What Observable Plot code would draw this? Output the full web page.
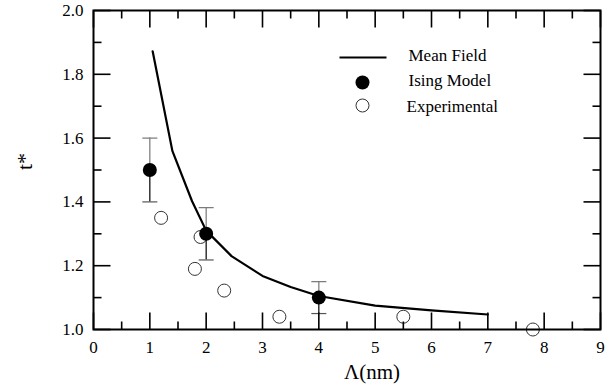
<!DOCTYPE html>
<html><head><meta charset="utf-8">
<script src="https://cdn.jsdelivr.net/npm/d3@7"></script>
<script src="https://cdn.jsdelivr.net/npm/@observablehq/plot@0.6"></script>
<style>
body{margin:0;background:#fff}
#wrap{position:relative;width:615px;height:390px;overflow:hidden}
#wrap svg{position:absolute;left:0;top:0}
</style>
</head><body><div id="wrap"></div>
<script>
// Mean field curve
const meanFieldX = [1.05, 1.4, 1.75, 2.0, 2.45, 3.0, 3.5, 4.0, 5.0, 6.0, 7.0];
const meanFieldT = [1.872, 1.56, 1.402, 1.31, 1.23, 1.168, 1.133, 1.105, 1.075, 1.06, 1.047];
// Ising model points with error bars
const isingX = [1, 2, 4];
const isingT = [1.5, 1.3, 1.1];
const isingErr = [0.1, 0.082, 0.05];
// Experimental points
const expX = [1.2, 1.8, 1.9, 2.32, 3.3, 5.5, 7.8];
const expT = [1.35, 1.19, 1.29, 1.122, 1.04, 1.04, 1.0];
// Ticks
const xMajor = [0, 1, 2, 3, 4, 5, 6, 7, 8, 9];
const xMinor = [0.5, 1.5, 2.5, 3.5, 4.5, 5.5, 6.5, 7.5, 8.5];
const yMajor = [1.0, 1.2, 1.4, 1.6, 1.8, 2.0];
const yMinor = [1.1, 1.3, 1.5, 1.7, 1.9];
const legendLabels = ["Mean Field", "Ising Model", "Experimental"];
const xLabel = "Λ(nm)";
const yLabel = "t*";

const meanFieldData = meanFieldX.map((x, i) => ({x, t: meanFieldT[i]}));
const isingData = isingX.map((x, i) => ({x, t: isingT[i], lo: isingT[i] - isingErr[i], hi: isingT[i] + isingErr[i]}));
const expData = expX.map((x, i) => ({x, t: expT[i]}));

const FONT = "Liberation Serif";
const base = {
  width: 615, height: 390,
  marginLeft: 93, marginRight: 15, marginTop: 10, marginBottom: 61,
  x: {domain: [0, 9], axis: null},
  y: {domain: [1, 2], axis: null},
  style: {fontFamily: FONT, fontSize: "17px", background: "transparent"}
};

const capSym = {draw(ctx) { ctx.moveTo(-7.5, 0); ctx.lineTo(7.5, 0); }};
const lineSym = {draw(ctx) { ctx.moveTo(-23.5, 0); ctx.lineTo(23.5, 0); }};
const tickSym = (dx, dy) => ({draw(ctx) { ctx.moveTo(0, 0); ctx.lineTo(dx, dy); }});
const MAJ = 17, MIN = 8, TW = 1.6;
const legendDy = [45.5, 70, 96];

// Layer 1: data, legend, titles
const dataChart = Plot.plot({
  ...base,
  marks: [
    Plot.line(meanFieldData, {x: "x", y: "t", stroke: "black", strokeWidth: 2.2}),
    Plot.dot(expData, {x: "x", y: "t", r: 6.5, stroke: "#333", strokeWidth: 1, fill: "none"}),
    Plot.ruleX(isingData, {x: "x", y1: "t", y2: "hi", stroke: "#777", strokeWidth: 1.2}),
    Plot.ruleX(isingData, {x: "x", y1: "lo", y2: "t", stroke: "black", strokeWidth: 1.2}),
    Plot.dot(isingData, {x: "x", y: "hi", symbol: capSym, stroke: "#777", strokeWidth: 1.2}),
    Plot.dot(isingData, {x: "x", y: "lo", symbol: capSym, stroke: "#555", strokeWidth: 1.2}),
    Plot.dot(isingData, {x: "x", y: "t", r: 7, fill: "black"}),
    Plot.dot([legendLabels[0]], {frameAnchor: "top-left", dx: 269.5, dy: 47, symbol: lineSym, stroke: "black", strokeWidth: 2.2}),
    Plot.dot([legendLabels[1]], {frameAnchor: "top-left", dx: 269, dy: 72, r: 7, fill: "black"}),
    Plot.dot([legendLabels[2]], {frameAnchor: "top-left", dx: 269, dy: 95, r: 6.5, stroke: "#333", fill: "none", strokeWidth: 1}),
    ...legendLabels.map((lab, i) => Plot.text([lab], {frameAnchor: "top-left", dx: i === 2 ? 313 : 315, dy: legendDy[i], text: d => d, textAnchor: "start", lineAnchor: "middle", fontSize: 17, fontFamily: FONT})),
    Plot.text([xLabel], {frameAnchor: "bottom", dx: 25, dy: 43, text: d => d, lineAnchor: "middle", fontSize: 21, fontFamily: FONT}),
    Plot.text([yLabel], {frameAnchor: "left", dx: -69, rotate: -90, text: d => d, lineAnchor: "middle", fontSize: 22, fontFamily: FONT})
  ]
});

// Layer 2 (on top): frame, inward ticks, tick labels
const axisChart = Plot.plot({
  ...base,
  marks: [
    Plot.axisX({anchor: "bottom", ticks: xMajor, tickSize: 0, tickPadding: 11, tickFormat: d => String(d), label: null, fontSize: 17, fontFamily: FONT}),
    Plot.axisY({anchor: "left", ticks: yMajor, tickSize: 0, tickPadding: 10, tickFormat: d => d.toFixed(1), label: null, fontSize: 17, fontFamily: FONT}),
    Plot.dot(xMajor, {x: d => d, frameAnchor: "bottom", symbol: tickSym(0, -MAJ), stroke: "black", strokeWidth: TW}),
    Plot.dot(xMinor, {x: d => d, frameAnchor: "bottom", symbol: tickSym(0, -MIN), stroke: "black", strokeWidth: TW}),
    Plot.dot(xMajor, {x: d => d, frameAnchor: "top", symbol: tickSym(0, MAJ), stroke: "black", strokeWidth: TW}),
    Plot.dot(xMinor, {x: d => d, frameAnchor: "top", symbol: tickSym(0, MIN), stroke: "black", strokeWidth: TW}),
    Plot.dot(yMajor, {y: d => d, frameAnchor: "left", symbol: tickSym(MAJ, 0), stroke: "black", strokeWidth: TW}),
    Plot.dot(yMinor, {y: d => d, frameAnchor: "left", symbol: tickSym(MIN, 0), stroke: "black", strokeWidth: TW}),
    Plot.dot(yMajor, {y: d => d, frameAnchor: "right", symbol: tickSym(-MAJ, 0), stroke: "black", strokeWidth: TW}),
    Plot.dot(yMinor, {y: d => d, frameAnchor: "right", symbol: tickSym(-MIN, 0), stroke: "black", strokeWidth: TW}),
    Plot.frame({stroke: "black", strokeWidth: 2})
  ]
});
axisChart.style.pointerEvents = "none";

const wrap = document.getElementById("wrap");
wrap.appendChild(dataChart);
wrap.appendChild(axisChart);
</script>
</body></html>
